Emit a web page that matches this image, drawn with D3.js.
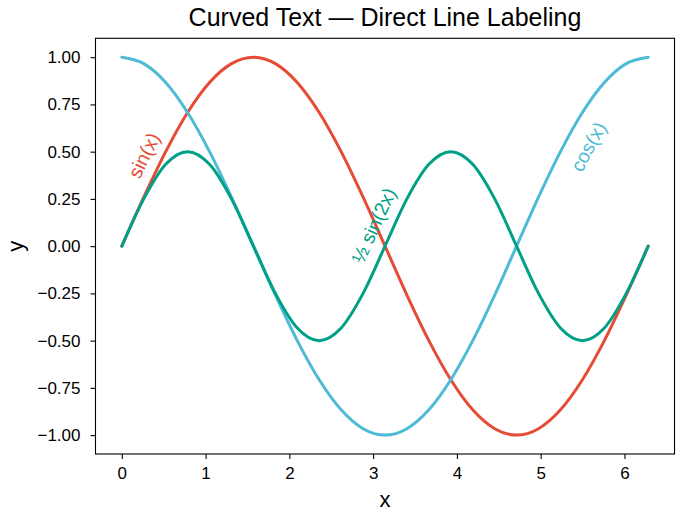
<!DOCTYPE html>
<html>
<head>
<meta charset="utf-8">
<script src="https://cdn.jsdelivr.net/npm/d3@7"></script>
<style>
  body { margin: 0; background: #fff; }
  text { font-family: "Liberation Sans", Arial, sans-serif; }
</style>
</head>
<body>
<svg id="chart" width="683" height="519"></svg>
<script>
// samples, every 15 degrees from 0 to 2*pi
var xs = [0, 0.262, 0.524, 0.785, 1.047, 1.309, 1.571, 1.833, 2.094, 2.356, 2.618, 2.880, 3.142,
          3.403, 3.665, 3.927, 4.189, 4.451, 4.712, 4.974, 5.236, 5.498, 5.760, 6.021, 6.283];
var sinY = [0, 0.259, 0.5, 0.707, 0.866, 0.966, 1, 0.966, 0.866, 0.707, 0.5, 0.259, 0,
            -0.259, -0.5, -0.707, -0.866, -0.966, -1, -0.966, -0.866, -0.707, -0.5, -0.259, 0];
var cosY = [1, 0.966, 0.866, 0.707, 0.5, 0.259, 0, -0.259, -0.5, -0.707, -0.866, -0.966, -1,
            -0.966, -0.866, -0.707, -0.5, -0.259, 0, 0.259, 0.5, 0.707, 0.866, 0.966, 1];
var halfSin2Y = [0, 0.25, 0.433, 0.5, 0.433, 0.25, 0, -0.25, -0.433, -0.5, -0.433, -0.25, 0,
                 0.25, 0.433, 0.5, 0.433, 0.25, 0, -0.25, -0.433, -0.5, -0.433, -0.25, 0];
var seriesNames = ["sin(x)", "cos(x)", "½ sin(2x)"];
var xTicks = [0, 1, 2, 3, 4, 5, 6];
var yTicks = [-1, -0.75, -0.5, -0.25, 0, 0.25, 0.5, 0.75, 1];

var colors = ["#E64B35", "#4DBBD5", "#00A087"];
var allY = [sinY, cosY, halfSin2Y];

// where each label sits: x on its curve, and normal offset in px (+ above, - below)
var labelX = [0.45, 5.35, 3.2];
var labelDist = [18, -22, 19];

var svg = d3.select("#chart");
var pLeft = 95.5, pRight = 674.5, pTop = 38.3, pBottom = 454;

var xPad = (d3.max(xs) - d3.min(xs)) * 0.05;
var x = d3.scaleLinear().domain([d3.min(xs) - xPad, d3.max(xs) + xPad]).range([pLeft, pRight]);
var y = d3.scaleLinear().domain([-1.1, 1.1]).range([pBottom, pTop]);

var line = d3.line()
  .x(function(d) { return x(d[0]); })
  .y(function(d) { return y(d[1]); })
  .curve(d3.curveCardinal.tension(0));

var plot = svg.append("g");
var paths = [];
allY.forEach(function(ys, i) {
  var pts = xs.map(function(v, j) { return [v, ys[j]]; });
  var p = plot.append("path")
    .attr("d", line(pts))
    .attr("fill", "none")
    .attr("stroke", colors[i])
    .attr("stroke-width", 3)
    .attr("stroke-linecap", "round");
  paths.push(p.node());
});

// build an offset guide path along a curve for the text to follow
function guide(node, xc, dist, halfLen) {
  var total = node.getTotalLength();
  var target = x(xc), best = 0, bestD = Infinity;
  for (var l = 0; l <= total; l += 0.5) {
    var q = node.getPointAtLength(l);
    var dd = Math.abs(q.x - target);
    if (dd < bestD) { bestD = dd; best = l; }
  }
  var out = [];
  for (var s = best - halfLen; s <= best + halfLen; s += 2) {
    var a = node.getPointAtLength(s - 1), b = node.getPointAtLength(s + 1);
    var dx = b.x - a.x, dy = b.y - a.y, n = Math.hypot(dx, dy);
    var p = node.getPointAtLength(s);
    out.push([p.x + dy / n * dist, p.y - dx / n * dist]);
  }
  return out;
}

var defs = svg.append("defs");
seriesNames.forEach(function(name, i) {
  var g = guide(paths[i], labelX[i], labelDist[i], 70);
  defs.append("path")
    .attr("id", "lbl" + i)
    .attr("d", d3.line().curve(d3.curveBasis)(g));
  svg.append("text")
    .attr("fill", colors[i])
    .style("font-size", "19.5px")
    .attr("dominant-baseline", "central")
    .append("textPath")
    .attr("href", "#lbl" + i)
    .attr("startOffset", "50%")
    .attr("text-anchor", "middle")
    .text(name);
});

// axes
var xAxis = d3.axisBottom(x).tickValues(xTicks).tickFormat(d3.format("d"))
  .tickSize(5).tickPadding(7.5);
var yAxis = d3.axisLeft(y).tickValues(yTicks).tickFormat(d3.format(".2f"))
  .tickSize(5).tickPadding(10);

var gx = svg.append("g").attr("transform", "translate(0," + pBottom + ")").call(xAxis);
var gy = svg.append("g").attr("transform", "translate(" + pLeft + ",0)").call(yAxis);
[gx, gy].forEach(function(g) {
  g.select(".domain").remove();
  g.selectAll(".tick line").attr("stroke", "#000").attr("stroke-width", 1.1);
  g.selectAll(".tick text").attr("fill", "#000")
    .style("font-size", "17px").style("font-family", "'Liberation Sans', Arial, sans-serif");
});

svg.append("rect")
  .attr("x", pLeft).attr("y", pTop)
  .attr("width", pRight - pLeft).attr("height", pBottom - pTop)
  .attr("fill", "none").attr("stroke", "#000").attr("stroke-width", 1.1);

svg.append("text")
  .attr("x", (pLeft + pRight) / 2).attr("y", 26)
  .attr("text-anchor", "middle")
  .style("font-size", "25px")
  .text("Curved Text — Direct Line Labeling");

svg.append("text")
  .attr("x", (pLeft + pRight) / 2).attr("y", 506.5)
  .attr("text-anchor", "middle")
  .style("font-size", "22px")
  .text("x");

svg.append("text")
  .attr("transform", "translate(22.5," + (pTop + pBottom) / 2 + ") rotate(-90)")
  .attr("text-anchor", "middle")
  .style("font-size", "22px")
  .text("y");
</script>
</body>
</html>
